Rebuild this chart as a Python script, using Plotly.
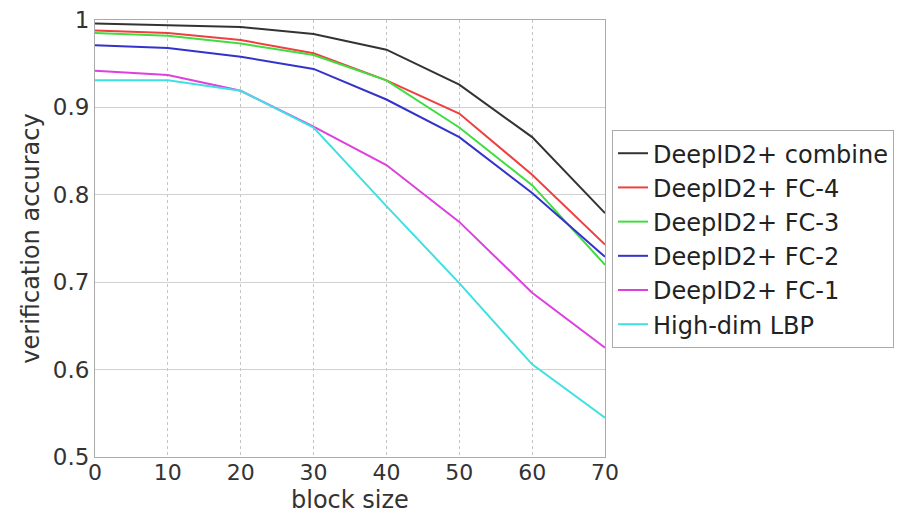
import plotly.graph_objects as go

block_size = [0, 10, 20, 30, 40, 50, 60, 70]
combine = [0.996, 0.994, 0.992, 0.984, 0.966, 0.926, 0.866, 0.779]
fc4 = [0.988, 0.985, 0.977, 0.962, 0.931, 0.893, 0.823, 0.743]
fc3 = [0.985, 0.982, 0.973, 0.960, 0.931, 0.877, 0.811, 0.720]
fc2 = [0.971, 0.968, 0.958, 0.944, 0.909, 0.866, 0.802, 0.729]
fc1 = [0.942, 0.937, 0.919, 0.878, 0.834, 0.769, 0.688, 0.625]
lbp = [0.931, 0.931, 0.919, 0.877, 0.787, 0.699, 0.606, 0.545]

names = ["DeepID2+ combine", "DeepID2+ FC-4", "DeepID2+ FC-3",
         "DeepID2+ FC-2", "DeepID2+ FC-1", "High-dim LBP"]
series = [combine, fc4, fc3, fc2, fc1, lbp]
colors = ["#333333", "#ee4040", "#40dd40", "#3333cc", "#dd40dd", "#40e0e0"]

FONT = "DejaVu Sans, Liberation Sans, Arial, sans-serif"

fig = go.Figure()
for n, s, c in zip(names, series, colors):
    fig.add_trace(go.Scatter(x=block_size, y=s, mode="lines", name=n,
                             line=dict(color=c, width=2)))

fig.add_annotation(text="block size", xref="paper", yref="paper", x=0.5, y=0,
                   yshift=-43, xanchor="center", yanchor="middle", showarrow=False,
                   font=dict(size=24, family=FONT, color="#333333"))

fig.update_layout(
    width=908, height=515,
    margin=dict(l=95, r=303, t=20, b=58, autoexpand=False),
    paper_bgcolor="white", plot_bgcolor="white",
    font=dict(family=FONT, color="#333333", size=22),
    showlegend=True,
    legend=dict(x=1.0137, y=0.748, xanchor="left", yanchor="top",
                bordercolor="#aaaaaa", borderwidth=1,
                font=dict(size=24, family=FONT, color="#222222"),
                itemwidth=30, tracegroupgap=0),
    xaxis=dict(range=[0, 70], tickvals=[0, 10, 20, 30, 40, 50, 60, 70],
               showgrid=True, gridcolor="#c4c4c4", griddash="dot", gridwidth=1,
               showline=True, linecolor="#aaaaaa", linewidth=1, mirror=True,
               zeroline=False, ticks="", tickfont=dict(size=22),
               ticklabelstandoff=-4),
    yaxis=dict(range=[0.5, 1.0], tickvals=[0.5, 0.6, 0.7, 0.8, 0.9, 1.0],
               ticktext=["0.5", "0.6", "0.7", "0.8", "0.9", "1"],
               showgrid=True, gridcolor="#d0d0d0", gridwidth=1,
               showline=True, linecolor="#aaaaaa", linewidth=1, mirror=True,
               zeroline=False, ticks="", tickfont=dict(size=23),
               title=dict(text="verification accuracy", font=dict(size=24), standoff=6)),
)

fig.write_html("out.html")
